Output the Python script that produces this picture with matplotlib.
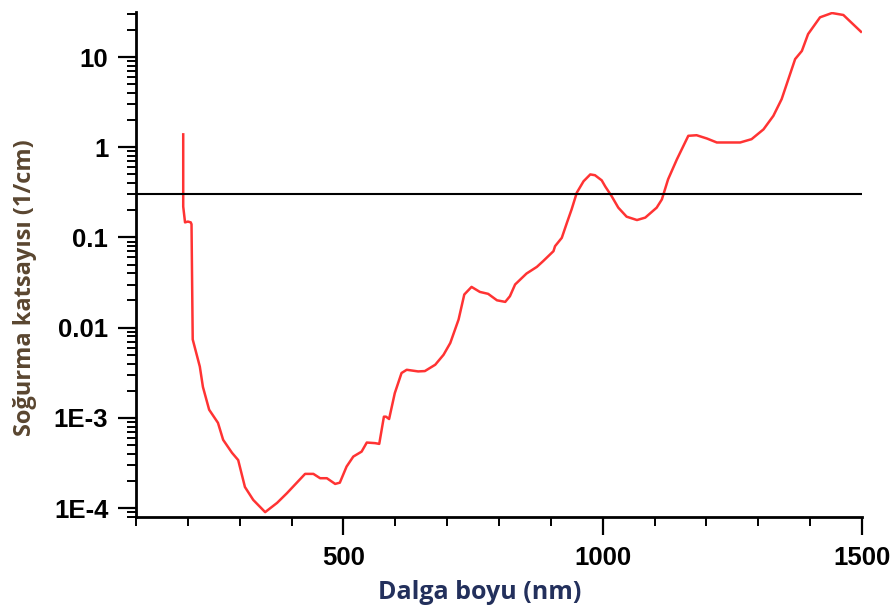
import numpy as np
from matplotlib import pyplot as plt
from matplotlib.ticker import FixedLocator, FixedFormatter, NullFormatter

# Absorption coefficient vs wavelength
#------------------------------------------------------------------------------
wavelength = [191, 191, 194.5, 200, 205.5, 207, 209.3, 223, 229, 241,
              258, 268, 285, 297, 310, 326, 349, 372, 391, 426,
              442, 455, 468, 484, 493, 506, 519, 535, 545, 561,
              569, 578, 582, 588, 599, 612, 622, 644, 657, 677,
              693, 706, 722, 733, 747, 763, 779, 796, 812, 821,
              831, 853, 873, 885, 905, 908, 921, 931, 940, 950,
              963, 976, 985, 998, 1005, 1017, 1030, 1046, 1066, 1082,
              1104, 1114, 1126, 1143, 1165, 1181, 1201, 1220, 1265, 1287,
              1310, 1329, 1345, 1358, 1371, 1384, 1396, 1419, 1442, 1464,
              1498]
absorption = [1.39, 0.22, 0.147, 0.15, 0.147, 0.14, 0.0074, 0.0037, 0.0022, 0.00123,
              0.00088, 0.00057, 0.00041, 0.00034, 0.000171, 0.000123, 0.00009, 0.000114, 0.000146, 0.000239,
              0.000239, 0.000214, 0.000214, 0.000185, 0.000191, 0.000288, 0.000372, 0.000422, 0.000532, 0.000524,
              0.000514, 0.00103, 0.00103, 0.00097, 0.00188, 0.00314, 0.00341, 0.00327, 0.0033, 0.00388,
              0.005, 0.00676, 0.0123, 0.0233, 0.0283, 0.0249, 0.0237, 0.0201, 0.0193, 0.0223,
              0.0301, 0.0398, 0.0472, 0.0546, 0.0705, 0.08, 0.099, 0.146, 0.205, 0.314,
              0.42, 0.50, 0.49, 0.43, 0.366, 0.288, 0.214, 0.17, 0.156, 0.166,
              0.214, 0.264, 0.441, 0.735, 1.34, 1.36, 1.25, 1.13, 1.13, 1.23,
              1.58, 2.23, 3.42, 5.7, 9.5, 11.7, 18, 27.6, 30.8, 29.3,
              19.1]
ref_level = 0.3

ytick_vals = [1e-4, 1e-3, 0.01, 0.1, 1, 10]
ytick_labels = ['1E-4', '1E-3', '0.01', '0.1', '1', '10']
xtick_vals = [500, 1000, 1500]
#------------------------------------------------------------------------------

fig = plt.figure(figsize=(8.92, 6.15), dpi=100)
ax = fig.add_axes([0.1525, 0.1593, 0.8139, 0.8212])

ax.plot(wavelength, absorption, color='#ff3333', lw=1.8)
ax.axhline(ref_level, color='black', lw=1.5)

ax.set_yscale('log')
ax.set_xlim(100, 1500)
ax.set_ylim(10**-4.1, 10**1.5)

for side in ['top', 'right']:
    ax.spines[side].set_visible(False)
for side in ['left', 'bottom']:
    ax.spines[side].set_linewidth(2)

ax.xaxis.set_major_locator(FixedLocator(xtick_vals))
ax.xaxis.set_minor_locator(FixedLocator(np.arange(100, 1501, 100)))
ax.yaxis.set_major_locator(FixedLocator(ytick_vals))
ax.yaxis.set_major_formatter(FixedFormatter(ytick_labels))
minor_y = [m * 10.0**e for e in range(-5, 2) for m in range(2, 10)]
ax.yaxis.set_minor_locator(FixedLocator(minor_y))
ax.yaxis.set_minor_formatter(NullFormatter())

ax.tick_params(which='major', direction='out', length=13, width=1.6,
               labelsize=18.5)
ax.tick_params(axis='x', which='major', pad=8)
ax.tick_params(axis='y', which='major', pad=7)
ax.tick_params(which='minor', direction='out', length=6.5, width=1.4)
for lab in ax.get_xticklabels() + ax.get_yticklabels():
    lab.set_fontfamily('Liberation Sans')
    lab.set_fontweight('bold')

ax.set_xlabel('Dalga boyu (nm)', fontsize=18, fontweight='bold',
              family='Open Sans', color='#23305c')
ax.set_ylabel('Soğurma katsayısı (1/cm)', fontsize=17, fontweight='bold',
              family='Open Sans', color='#5a4630')
ax.xaxis.set_label_coords(0.473, -0.125)
ax.yaxis.set_label_coords(-0.137, 0.455)

fig.savefig('out.png', dpi=100)
